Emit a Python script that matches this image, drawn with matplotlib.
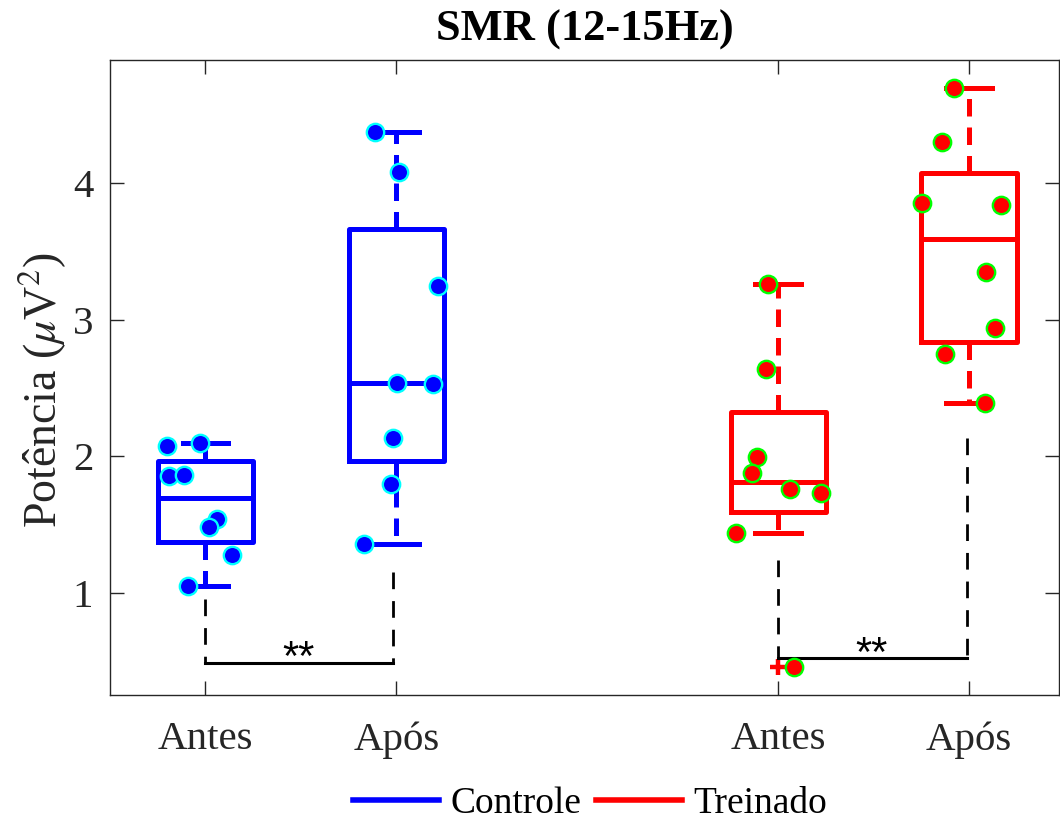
import numpy as np
import matplotlib
matplotlib.use('Agg')
import matplotlib.pyplot as plt
from matplotlib.lines import Line2D

plt.rcParams['font.family'] = ['Liberation Serif', 'DejaVu Serif']
plt.rcParams['mathtext.fontset'] = 'stix'

# group positions and labels
positions = [1, 2, 4, 5]
tick_labels = ['Antes', 'Após', 'Antes', 'Após']

# individual values
ctrl_antes = [2.075, 2.097, 1.855, 1.862, 1.54, 1.48, 1.276, 1.05]
ctrl_antes_dx = [-0.2, -0.03, -0.19, -0.115, 0.058, 0.016, 0.14, -0.09]
ctrl_apos = [4.375, 4.082, 3.247, 2.537, 2.53, 2.133, 1.796, 1.357]
ctrl_apos_dx = [-0.11, 0.016, 0.22, 0.005, 0.19, -0.02, -0.03, -0.17]
trein_antes = [3.26, 2.637, 1.994, 1.877, 1.76, 1.73, 1.437, 0.455]
trein_antes_dx = [-0.052, -0.063, -0.11, -0.136, 0.063, 0.225, -0.22, 0.084]
trein_apos = [4.694, 4.30, 3.855, 3.84, 3.35, 2.94, 2.748, 2.39]
trein_apos_dx = [-0.078, -0.14, -0.246, 0.168, 0.089, 0.136, -0.126, 0.084]

# box statistics (MATLAB style quartiles)
q1 = [1.37, 1.965, 1.59, 2.837]
med = [1.694, 2.537, 1.81, 3.59]
q3 = [1.965, 3.664, 2.32, 4.075]
whislo = [1.05, 1.357, 1.437, 2.39]
whishi = [2.097, 4.375, 3.26, 4.694]
fliers = [[], [], [0.455], []]

# significance bars
sig_x1 = [1.0, 4.0]
sig_x2 = [1.98, 4.99]
sig_y = [0.485, 0.52]
sig_top1 = [0.953, 1.24]
sig_top2 = [1.15, 2.13]
sig_tx = [1.487, 4.49]
sig_ty = [0.43, 0.465]

fig = plt.figure(figsize=(10.6, 8.23), dpi=100)
ax = fig.add_axes([0.1038, 0.1555, 0.8952, 0.7715])

colors = ['#0000ff', '#0000ff', '#ff0000', '#ff0000']
edges = ['#00ffff', '#00ffff', '#00ff00', '#00ff00']
groups = [(ctrl_antes, ctrl_antes_dx), (ctrl_apos, ctrl_apos_dx),
          (trein_antes, trein_antes_dx), (trein_apos, trein_apos_dx)]

for i in range(4):
    st = dict(q1=q1[i], med=med[i], q3=q3[i], whislo=whislo[i],
              whishi=whishi[i], fliers=fliers[i])
    c = colors[i]
    ax.bxp([st], positions=[positions[i]], widths=0.5, capwidths=0.24,
           boxprops=dict(color=c, lw=3.6),
           medianprops=dict(color=c, lw=3.6),
           whiskerprops=dict(color=c, lw=3.6, linestyle=(0, (3.5, 2.2))),
           capprops=dict(color=c, lw=3.6),
           flierprops=dict(marker='+', markeredgecolor=c, markersize=11,
                           markeredgewidth=3.2, linestyle='none'),
           zorder=2)

for i, (vals, dx) in enumerate(groups):
    xs = positions[i] + np.array(dx)
    ax.plot(xs, vals, 'o', color=colors[i], markeredgecolor=edges[i],
            markersize=12.5, markeredgewidth=1.7, zorder=4)

for j in range(2):
    ax.plot([sig_x1[j], sig_x1[j]], [sig_top1[j], sig_y[j]], color='black',
            lw=2, linestyle=(0, (6, 4.3)), zorder=3)
    ax.plot([sig_x2[j], sig_x2[j]], [sig_top2[j], sig_y[j]], color='black',
            lw=2, linestyle=(0, (6, 4.3)), zorder=3)
    ax.plot([sig_x1[j], sig_x2[j]], [sig_y[j], sig_y[j]], color='black',
            lw=2.2, zorder=3)
    ax.text(sig_tx[j], sig_ty[j], '**', ha='center', va='baseline',
            fontsize=30, family='Liberation Sans', color='black', zorder=5)

ax.set_xlim(0.5, 5.47)
ax.set_ylim(0.25, 4.90)
ax.set_xticks(positions)
ax.set_xticklabels(tick_labels)
ax.set_yticks([1, 2, 3, 4])
ax.tick_params(direction='in', length=10, width=1, colors='#262626',
               labelsize=29.5, top=True, right=True)
ax.tick_params(axis='x', pad=19)
ax.tick_params(axis='y', pad=12)
for s in ax.spines.values():
    s.set_color('#262626')
    s.set_linewidth(1)

ax.set_title('SMR (12-15Hz)', fontsize=32, fontweight='bold', pad=14)
ax.set_ylabel(r'Potência ($\mu$V$^2$)', fontsize=33, color='#262626',
              va='center')
ax.yaxis.set_label_coords(-0.0706, 0.48)

handles = [Line2D([], [], color='#0000ff', lw=4),
           Line2D([], [], color='#ff0000', lw=4)]
fig.legend(handles, ['Controle', 'Treinado'], loc='center',
           bbox_to_anchor=(590 / 1060, 19 / 823), ncol=2, frameon=False,
           fontsize=27, handlelength=2.3, handletextpad=0.3,
           columnspacing=0.4, borderpad=0.1)

fig.savefig('out.png', dpi=100)
